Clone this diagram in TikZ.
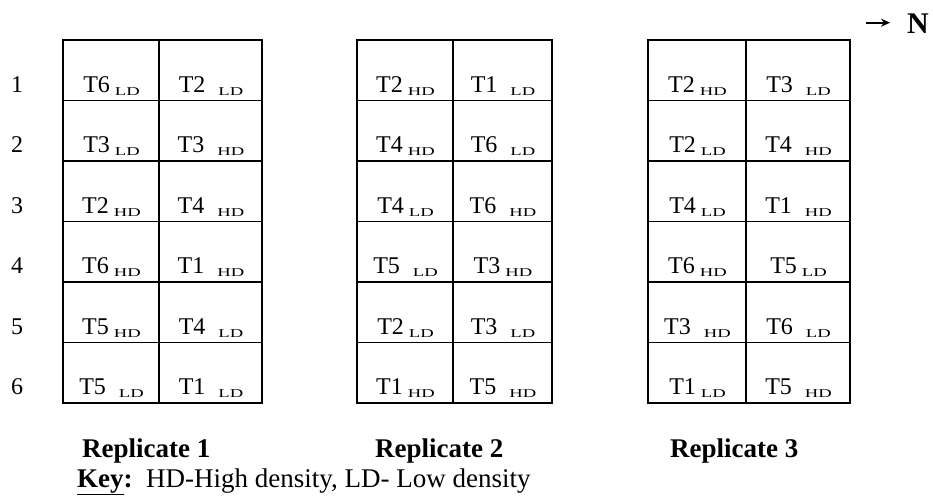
\documentclass[tikz,border=0pt]{standalone}
\usepackage{fontspec}
\setmainfont{Liberation Serif}
\usepackage{graphicx}
\usetikzlibrary{arrows.meta}
\newcommand{\sbx}[1]{\raisebox{-3pt}{\scalebox{1.55}[1]{\fontsize{12}{12}\selectfont #1}}}
\newcommand{\tc}[2]{#1\hspace{5pt}\sbx{#2}}
\newcommand{\tw}[2]{#1\hspace{13pt}\sbx{#2}}
\tikzset{
  gridline/.style={line width=1.7pt, black},
  ct/.style={anchor=base, inner sep=0pt, font=\fontsize{24}{26}\selectfont},
  rownum/.style={anchor=base, inner sep=0pt, font=\fontsize{24}{26}\selectfont},
  replab/.style={anchor=base west, inner sep=0pt, font=\fontsize{27}{30}\selectfont\bfseries},
  keylab/.style={anchor=base west, inner sep=0pt, font=\fontsize{27}{30}\selectfont},
}
\begin{document}
\begin{tikzpicture}[x=1pt,y=-1pt]
\useasboundingbox (0,0) rectangle (933,499);
% grids
\foreach \L/\M/\R in {63/159/262, 357/453/552, 648/746/850}{
  \draw[gridline] (\L,40) rectangle (\R,403);
  \draw[gridline] (\M,40) -- (\M,403);
  \foreach \yy in {100.5,161,221.5,282,342.5}{
    \draw[gridline] (\L,\yy) -- (\R,\yy);
  }
}
% row numbers
\node[rownum] (n1) at (17,92) {1};
\node[rownum] (n2) at (17,152.5) {2};
\node[rownum] (n3) at (17,213) {3};
\node[rownum] (n4) at (17,273.5) {4};
\node[rownum] (n5) at (17,334) {5};
\node[rownum] (n6) at (17,394.5) {6};
% Replicate 1
\node[ct] (a11) at (111.5,92) {\tc{T6}{LD}};
\node[ct] (a12) at (211,92) {\tw{T2}{LD}};
\node[ct] (a21) at (111.5,152.5) {\tc{T3}{LD}};
\node[ct] (a22) at (211,152.5) {\tw{T3}{HD}};
\node[ct] (a31) at (111.5,213) {\tc{T2}{HD}};
\node[ct] (a32) at (211,213) {\tw{T4}{HD}};
\node[ct] (a41) at (111.5,273.5) {\tc{T6}{HD}};
\node[ct] (a42) at (211,273.5) {\tw{T1}{HD}};
\node[ct] (a51) at (111.5,334) {\tc{T5}{HD}};
\node[ct] (a52) at (211,334) {\tw{T4}{LD}};
\node[ct] (a61) at (111.5,394.5) {\tw{T5}{LD}};
\node[ct] (a62) at (211,394.5) {\tw{T1}{LD}};
% Replicate 2
\node[ct] (b11) at (405.5,92) {\tc{T2}{HD}};
\node[ct] (b12) at (503,92) {\tw{T1}{LD}};
\node[ct] (b21) at (405.5,152.5) {\tc{T4}{HD}};
\node[ct] (b22) at (503,152.5) {\tw{T6}{LD}};
\node[ct] (b31) at (405.5,213) {\tc{T4}{LD}};
\node[ct] (b32) at (503,213) {\tw{T6}{HD}};
\node[ct] (b41) at (405.5,273.5) {\tw{T5}{LD}};
\node[ct] (b42) at (503,273.5) {\tc{T3}{HD}};
\node[ct] (b51) at (405.5,334) {\tc{T2}{LD}};
\node[ct] (b52) at (503,334) {\tw{T3}{LD}};
\node[ct] (b61) at (405.5,394.5) {\tc{T1}{HD}};
\node[ct] (b62) at (503,394.5) {\tw{T5}{HD}};
% Replicate 3
\node[ct] (c11) at (697.5,92) {\tc{T2}{HD}};
\node[ct] (c12) at (798.5,92) {\tw{T3}{LD}};
\node[ct] (c21) at (697.5,152.5) {\tc{T2}{LD}};
\node[ct] (c22) at (798.5,152.5) {\tw{T4}{HD}};
\node[ct] (c31) at (697.5,213) {\tc{T4}{LD}};
\node[ct] (c32) at (798.5,213) {\tw{T1}{HD}};
\node[ct] (c41) at (697.5,273.5) {\tc{T6}{HD}};
\node[ct] (c42) at (798.5,273.5) {\tc{T5}{LD}};
\node[ct] (c51) at (697.5,334) {\tw{T3}{HD}};
\node[ct] (c52) at (798.5,334) {\tw{T6}{LD}};
\node[ct] (c61) at (697.5,394.5) {\tc{T1}{LD}};
\node[ct] (c62) at (798.5,394.5) {\tw{T5}{HD}};
% labels
\node[replab] (r1) at (82,457) {Replicate 1};
\node[replab] (r2) at (375,457) {Replicate 2};
\node[replab] (r3) at (670,457) {Replicate 3};
\node[keylab] (key) at (77,487) {\textbf{\underline{Key}:}\ \ HD-High density, LD- Low density};
% north arrow
\node[anchor=base west, inner sep=0pt, font=\fontsize{30}{32}\selectfont\bfseries] (N) at (907,33) {N};
\coordinate (arrS) at (866,22.7);
\draw[line width=2pt, -{Stealth[length=9pt,width=8pt]}] (arrS) -- ([xshift=-17pt]N.west |- arrS);
\end{tikzpicture}
\end{document}
